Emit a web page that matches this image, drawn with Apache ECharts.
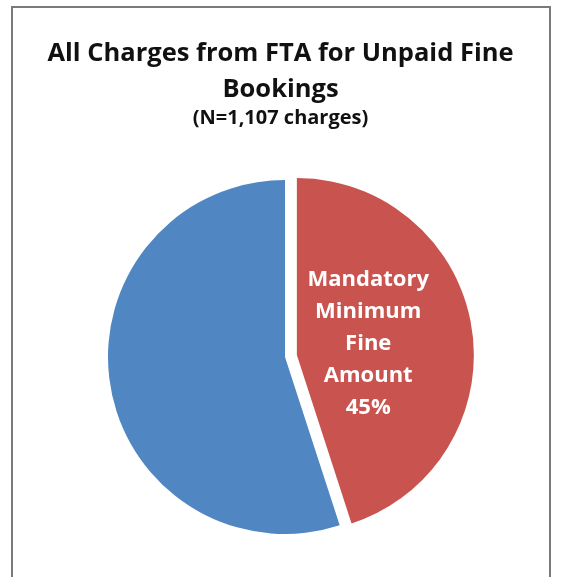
<!DOCTYPE html>
<html>
<head>
<meta charset="utf-8">
<script src="https://cdn.jsdelivr.net/npm/echarts@6/dist/echarts.min.js"></script>
<style>
html,body{margin:0;padding:0;background:#fff;}
#frame{position:absolute;left:11px;top:6px;width:536px;height:620px;border:2px solid #7a7a7a;border-bottom:none;}
#chart{position:absolute;left:0;top:0;width:561px;height:577px;}
</style>
</head>
<body>
<div id="frame"></div>
<div id="chart"></div>
<script>
const titleText = "All Charges from FTA for Unpaid Fine\nBookings";
const subtitleText = "(N=1,107 charges)";
const categories = ["Mandatory Minimum Fine Amount", "Other"];
const values = [45, 55];
const colors = ["#c9534e", "#5086c1"];
const labelShown = [true, false];

const chart = echarts.init(document.getElementById('chart'), null, {renderer: 'canvas'});
const data = categories.map((c, i) => ({
  name: c,
  value: values[i],
  selected: i === 0,
  itemStyle: {color: colors[i]},
  label: {show: labelShown[i]}
}));
chart.setOption({
  animation: false,
  backgroundColor: 'transparent',
  title: [
    {text: titleText, left: 'center', top: 31,
     textStyle: {fontFamily: 'Open Sans', fontWeight: 'bold', fontSize: 25.5, lineHeight: 36, color: '#111'}},
    {text: subtitleText, left: 'center', top: 101,
     textStyle: {fontFamily: 'Open Sans', fontWeight: 'bold', fontSize: 20, lineHeight: 24, color: '#111'}}
  ],
  series: [{
    type: 'pie',
    center: [285, 357],
    radius: 177,
    startAngle: 90,
    clockwise: true,
    selectedMode: 'single',
    selectedOffset: 12,
    data: data,
    label: {
      position: 'inside',
      formatter: p => p.name.split(' ').join('\n') + '\n' + p.percent.toFixed(0) + '%',
      color: '#fff',
      fontFamily: 'Open Sans',
      fontWeight: 'bold',
      fontSize: 22,
      lineHeight: 32,
      align: 'center'
    },
    labelLayout: {dx: -19, dy: 3},
    labelLine: {show: false},
    emphasis: {disabled: true},
    itemStyle: {borderWidth: 0}
  }]
});
</script>
</body>
</html>
